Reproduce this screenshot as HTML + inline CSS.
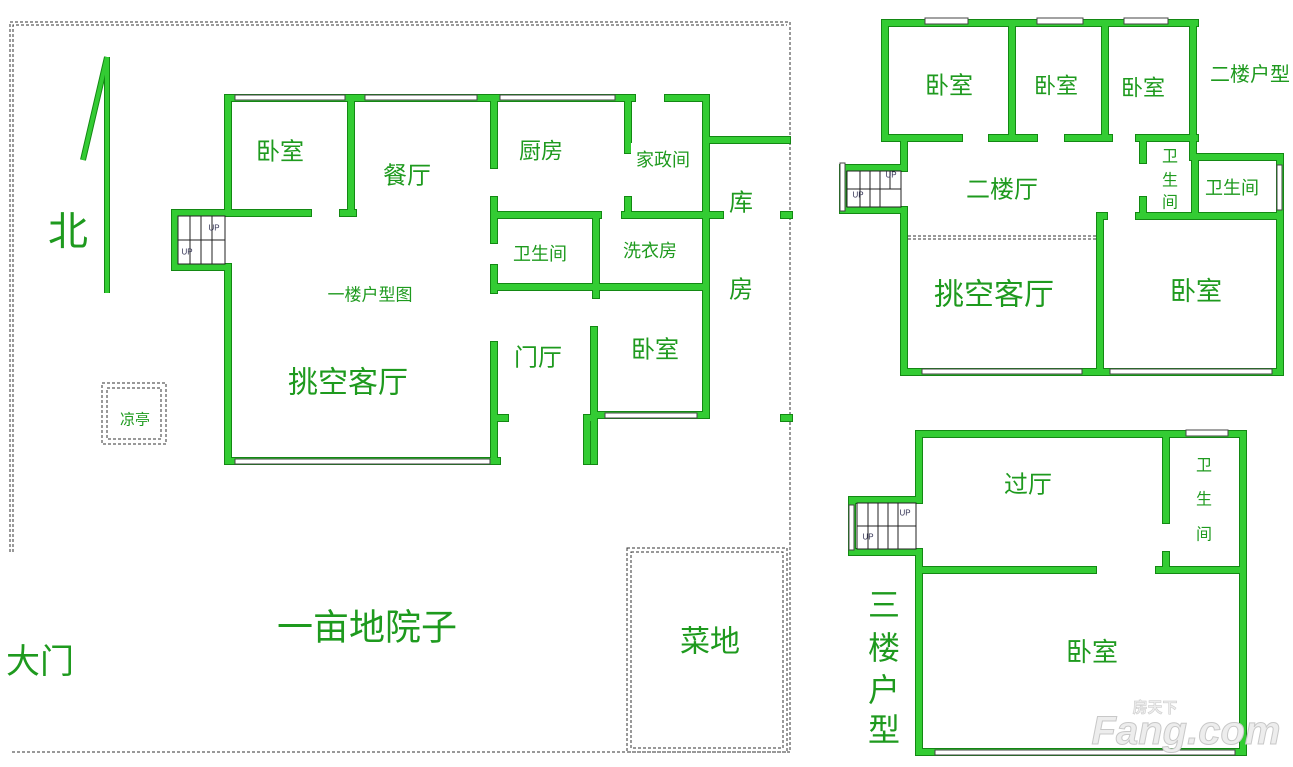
<!DOCTYPE html>
<html><head><meta charset="utf-8"><style>
html,body{margin:0;padding:0;background:#fff;}
svg{display:block}
text{font-family:"Liberation Sans","Noto Sans CJK SC",sans-serif;fill:#1e9a1e;text-anchor:middle;dominant-baseline:central}
.win{fill:#fff;stroke:#444;stroke-width:1}
.st{fill:#fff;stroke:#222;stroke-width:1}
.up{font-size:8px;fill:#335;font-family:"Liberation Sans",sans-serif}
</style></head><body>
<svg width="1293" height="767" viewBox="0 0 1293 767" xmlns="http://www.w3.org/2000/svg">
<!-- yard boundary -->
<g stroke="#333" stroke-width="1" stroke-dasharray="3,2" fill="none">
<path d="M10,552 V22 H790 V752 H10"/>
<path d="M13,552 V25 H787"/>
<rect x="627" y="548" width="160" height="204"/>
<rect x="631" y="552" width="152" height="196"/>
<rect x="102" y="383" width="64" height="61"/>
<rect x="107" y="388" width="54" height="51"/>
</g>
<!-- north arrow -->
<g stroke="#138813" stroke-width="6" fill="none"><path d="M107,57 V293 M107,57 L83,160"/></g>
<g stroke="#33cc33" stroke-width="4" fill="none"><path d="M107,57 V293 M107,57 L83,160"/></g>

<g fill="none" stroke="#138813" stroke-width="8" stroke-linecap="square">
<path d="M228,98 H632 M668,98 H706 M228,98 V213 M175,213 H308 M343,213 H353 M351,98 V213 M175,213 V267 H228 M228,267 V461 H497 M494,98 V165 M494,200 V240 M494,268 V290 M494,345 V461 M494,418 H505 M494,215 H598 M625,215 H720 M628,98 V150 M628,200 V215 M706,98 V413 M706,140 H787 M494,287 H706 M596,215 V295 M594,330 V461 M587,418 V461 M587,418 H594 M594,415 H706 M784,215 H789 M784,418 H789"/>
<path d="M885,23 H1195 M885,23 V138 H959 M992,138 H1034 M1068,138 H1109 M1139,138 H1195 M1012,23 V138 M1105,23 V138 M1193,23 V157 H1280 V372 H904 V210 H843 V168 H904 V138 M1100,216 V372 M1100,216 H1104 M1139,216 H1278 M1143,138 V160 M1143,200 V216 M1195,157 V216"/>
<path d="M919,434 H1243 V752 H919 V552 H852 V500 H919 V434 M1166,434 V520 M1166,555 V570 M919,570 H1093 M1159,570 H1243"/>
</g>
<g fill="none" stroke="#33cc33" stroke-width="6" stroke-linecap="square">
<path d="M228,98 H632 M668,98 H706 M228,98 V213 M175,213 H308 M343,213 H353 M351,98 V213 M175,213 V267 H228 M228,267 V461 H497 M494,98 V165 M494,200 V240 M494,268 V290 M494,345 V461 M494,418 H505 M494,215 H598 M625,215 H720 M628,98 V150 M628,200 V215 M706,98 V413 M706,140 H787 M494,287 H706 M596,215 V295 M594,330 V461 M587,418 V461 M587,418 H594 M594,415 H706 M784,215 H789 M784,418 H789"/>
<path d="M885,23 H1195 M885,23 V138 H959 M992,138 H1034 M1068,138 H1109 M1139,138 H1195 M1012,23 V138 M1105,23 V138 M1193,23 V157 H1280 V372 H904 V210 H843 V168 H904 V138 M1100,216 V372 M1100,216 H1104 M1139,216 H1278 M1143,138 V160 M1143,200 V216 M1195,157 V216"/>
<path d="M919,434 H1243 V752 H919 V552 H852 V500 H919 V434 M1166,434 V520 M1166,555 V570 M919,570 H1093 M1159,570 H1243"/>
</g>
<!-- windows -->
<g class="win">
<rect x="235" y="95" width="110" height="5"/><rect x="365" y="95" width="112" height="5"/><rect x="500" y="95" width="115" height="5"/>
<rect x="235" y="459" width="255" height="5"/><rect x="605" y="413" width="92" height="5"/>
<rect x="925" y="18" width="43" height="6"/><rect x="1037" y="18" width="46" height="6"/><rect x="1124" y="18" width="44" height="6"/>
<rect x="922" y="369" width="160" height="5"/><rect x="1110" y="369" width="162" height="5"/>
<rect x="1277" y="165" width="5" height="45"/>
<rect x="1186" y="430" width="42" height="6"/><rect x="935" y="750" width="300" height="5"/>
<rect x="840" y="163" width="5" height="48"/><rect x="849" y="505" width="5" height="45"/>
</g>
<!-- stairs -->
<g>
<rect class="st" x="178" y="216" width="47" height="48"/>
<path d="M178,240 H225 M190,216 V240 M201,216 V240 M212,216 V264 M190,240 V264 M201,240 V264" stroke="#222"/>
<text class="up" x="214" y="228">UP</text><text class="up" x="187" y="252">UP</text>
<rect class="st" x="847" y="171" width="54" height="36"/>
<path d="M847,189 H901 M860,171 V207 M870,171 V207 M880,171 V207 M890,171 V189" stroke="#222"/>
<text class="up" x="891" y="175">UP</text><text class="up" x="858" y="195">UP</text>
<rect class="st" x="857" y="503" width="59" height="46"/>
<path d="M857,526 H916 M868,503 V549 M878,503 V549 M888,503 V549 M898,503 V549" stroke="#222"/>
<text class="up" x="905" y="513">UP</text><text class="up" x="868" y="537">UP</text>
</g>
<path d="M908,236 H1098 M908,239 H1098" stroke="#333" stroke-width="1" stroke-dasharray="3,2" fill="none"/>
<rect x="631" y="143" width="67" height="34" fill="#fff"/>
<!-- labels -->
<text x="68" y="232" font-size="40">北</text>
<text x="40" y="662" font-size="34">大门</text>
<text x="367" y="627" font-size="36">一亩地院子</text>
<text x="710" y="642" font-size="30">菜地</text>
<text x="135" y="420" font-size="15">凉亭</text>
<text x="280" y="152" font-size="24">卧室</text>
<text x="407" y="176" font-size="24">餐厅</text>
<text x="541" y="151" font-size="22">厨房</text>
<text x="663" y="160" font-size="18">家政间</text>
<text x="540" y="254" font-size="18">卫生间</text>
<text x="650" y="251" font-size="18">洗衣房</text>
<text x="370" y="295" font-size="17">一楼户型图</text>
<text x="348" y="383" font-size="30">挑空客厅</text>
<text x="538" y="358" font-size="24">门厅</text>
<text x="655" y="350" font-size="24">卧室</text>
<text x="741" y="203" font-size="24">库</text>
<text x="741" y="290" font-size="24">房</text>
<text x="949" y="86" font-size="24">卧室</text>
<text x="1056" y="86" font-size="22">卧室</text>
<text x="1143" y="88" font-size="22">卧室</text>
<text x="1250" y="75" font-size="20">二楼户型</text>
<text x="1002" y="190" font-size="24">二楼厅</text>
<text x="1170" y="157" font-size="16">卫</text><text x="1170" y="181" font-size="16">生</text><text x="1170" y="203" font-size="16">间</text>
<text x="1232" y="188" font-size="18">卫生间</text>
<text x="994" y="295" font-size="30">挑空客厅</text>
<text x="1196" y="291" font-size="26">卧室</text>
<text x="1028" y="485" font-size="24">过厅</text>
<text x="1204" y="466" font-size="16">卫</text><text x="1204" y="500" font-size="16">生</text><text x="1204" y="535" font-size="16">间</text>
<text x="1092" y="652" font-size="26">卧室</text>
<text x="884" y="605" font-size="32">三</text><text x="884" y="648" font-size="32">楼</text><text x="884" y="690" font-size="32">户</text><text x="884" y="730" font-size="32">型</text>
<text x="1186" y="731" font-size="40" font-style="italic" font-weight="bold" style="fill:#ededed;stroke:#c8c8c8;stroke-width:1">Fang.com</text>
<text x="1155" y="708" font-size="15" font-weight="bold" style="fill:#ededed;stroke:#c8c8c8;stroke-width:0.5">房天下</text>
</svg>
</body></html>
